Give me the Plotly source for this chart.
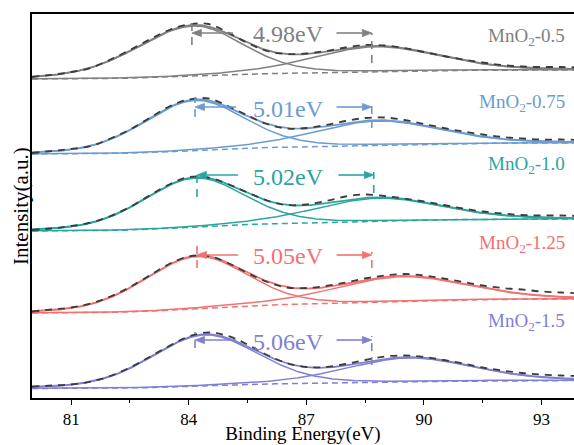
import numpy as np
import plotly.graph_objects as go

# ---------------- data ----------------
sample_names = ["MnO<sub>2</sub>-0.5", "MnO<sub>2</sub>-0.75", "MnO<sub>2</sub>-1.0",
                "MnO<sub>2</sub>-1.25", "MnO<sub>2</sub>-1.5"]
splitting_labels = ["4.98eV", "5.01eV", "5.02eV", "5.05eV", "5.06eV"]

# measured spectra (stacked, arbitrary units) at these binding energies
energies = [80.0, 80.5, 81.0, 81.5, 82.0, 82.5, 83.0, 83.5, 84.0, 84.5, 85.0, 85.5,
            86.0, 86.5, 87.0, 87.5, 88.0, 88.5, 89.0, 89.5, 90.0, 90.5, 91.0, 91.5,
            92.0, 92.5, 93.0, 93.5, 94.0]
meas_05 = [321.0, 323.2, 326.0, 330.0, 338.5, 348.0, 358.5, 368.0, 373.5, 374.0, 365.5,
           355.0, 347.0, 344.0, 344.5, 347.0, 350.5, 353.0, 352.5, 350.0, 346.0, 342.0,
           338.5, 335.5, 333.0, 331.5, 331.0, 331.0, 330.5]
meas_075 = [245.0, 247.0, 249.0, 252.0, 259.5, 268.5, 280.0, 291.5, 298.5, 299.5, 292.0,
            282.5, 274.0, 269.5, 270.0, 273.0, 277.0, 280.0, 280.5, 278.0, 274.0, 270.0,
            266.5, 263.5, 261.0, 259.5, 258.5, 258.5, 258.0]
meas_10 = [168.0, 169.5, 172.0, 175.5, 182.0, 191.0, 202.5, 213.5, 221.0, 220.5, 214.0,
           205.5, 197.5, 193.0, 193.5, 197.0, 201.5, 203.5, 202.0, 199.5, 196.5, 193.0,
           189.5, 186.5, 184.5, 183.0, 182.5, 182.5, 182.0]
meas_125 = [86.5, 88.5, 90.5, 94.5, 101.5, 111.0, 122.5, 134.0, 141.5, 142.0, 135.0, 125.0,
            116.0, 110.5, 110.0, 112.0, 115.5, 119.5, 122.5, 124.0, 122.5, 119.5, 116.0,
            112.5, 110.0, 108.5, 106.5, 105.5, 104.5]
meas_15 = [11.5, 12.5, 13.5, 16.5, 22.0, 30.5, 41.0, 52.0, 61.5, 65.5, 62.0, 53.5, 43.0,
           35.0, 31.0, 31.0, 34.0, 38.0, 41.5, 42.5, 41.0, 38.0, 34.5, 30.5, 27.5, 25.0,
           23.5, 22.5, 22.0]
measured = [meas_05, meas_075, meas_10, meas_125, meas_15]

# fitted components (pseudo-Voigt peaks on a Shirley background)
bg_left = [319, 244, 167, 85, 9.5]
bg_step = [9, 11, 12, 14, 8]
p1_center = [84.1, 84.15, 84.15, 84.2, 84.4]
p1_height = [50, 50, 49, 52, 51]
p1_fwhm_low = [3.4, 3.1, 3.1, 3.2, 3.2]
p1_fwhm_high = [3.0, 3.0, 3.0, 3.0, 3.2]
p2_center = [88.75, 88.8, 88.8, 89.4, 89.6]
p2_height = [25, 24, 23, 25, 24]
p2_fwhm = [3.8, 3.8, 3.8, 4.0, 3.8]

# peak-position markers (eV)
marker_left = [84.08, 84.16, 84.21, 84.21, 84.16]
marker_right = [88.67, 88.67, 88.72, 88.67, 88.67]

# ---------------- layout helpers (positions / styles) ----------------
colors = ["#808080", "#6b9bd2", "#2aa59f", "#f27171", "#7f7fd5"]
arrow_level = [365, 291, 223, 143, 58]
left_marker_span = [(353, 378), (281, 301), (201, 226), (130, 156), (50, 66)]
right_marker_span = [(335, 365), (270, 295), (205, 226), (130, 146), (33, 62)]
name_y = [361, 295, 233, 154, 76]
label_y = [364, 289, 221, 142, 56]
HEAD_LEN = 0.24   # eV (about 9 px)
HEAD_HALF = 3.6   # plot units (about 3.6 px)
FONT = "Liberation Serif"


def pvoigt(x, c, h, wl, wr, eta=0.2):
    w = np.where(x < c, wl, wr)
    d2 = 4.0 * (x - c) ** 2 / w ** 2
    return h * ((1 - eta) * np.exp(-np.log(2) * d2) + eta / (1 + d2))


def arrow(fig, x_tail, x_tip, y, col):
    d = 1 if x_tail > x_tip else -1
    base = x_tip + d * HEAD_LEN
    fig.add_trace(go.Scatter(x=[x_tail, base], y=[y, y], mode="lines",
                             line=dict(color=col, width=1.6)))
    fig.add_trace(go.Scatter(x=[x_tip, base, base, x_tip],
                             y=[y, y + HEAD_HALF, y - HEAD_HALF, y],
                             mode="lines", fill="toself", fillcolor=col,
                             line=dict(color=col, width=0.8)))


xg = np.linspace(80, 94, 561)
fig = go.Figure()
for i in range(5):
    col = colors[i]
    g1 = pvoigt(xg, p1_center[i], p1_height[i], p1_fwhm_low[i], p1_fwhm_high[i])
    g2 = pvoigt(xg, p2_center[i], p2_height[i], p2_fwhm[i], p2_fwhm[i])
    s = g1 + g2
    F = np.cumsum(s) / np.sum(s)
    bg = bg_left[i] + bg_step[i] * F
    env = bg + g1 + g2
    fig.add_trace(go.Scatter(x=xg, y=bg, mode="lines",
                             line=dict(color=col, width=1.5, dash="6px,4px")))
    fig.add_trace(go.Scatter(x=xg, y=bg + g2, mode="lines", line=dict(color=col, width=1.5)))
    fig.add_trace(go.Scatter(x=xg, y=bg + g1, mode="lines", line=dict(color=col, width=1.5)))
    fig.add_trace(go.Scatter(x=xg, y=env, mode="lines", line=dict(color=col, width=1.8)))
    fig.add_trace(go.Scatter(x=energies, y=measured[i], mode="lines", line_shape="spline",
                             line=dict(color="#3c3c3c", width=1.8, dash="7px,6px")))
    # peak markers
    fig.add_trace(go.Scatter(x=[marker_left[i]] * 2, y=list(left_marker_span[i]), mode="lines",
                             line=dict(color=col, width=1.6, dash="8px,6px")))
    fig.add_trace(go.Scatter(x=[marker_right[i]] * 2, y=list(right_marker_span[i]), mode="lines",
                             line=dict(color=col, width=1.6, dash="8px,6px")))
    arrow(fig, marker_left[i] + 1.05, marker_left[i], arrow_level[i], col)
    arrow(fig, marker_right[i] - 0.9, marker_right[i], arrow_level[i], col)
    fig.add_annotation(x=86.55, y=label_y[i], text=splitting_labels[i], showarrow=False,
                       font=dict(family=FONT, size=24, color=col), xanchor="center",
                       yanchor="middle")
    fig.add_annotation(x=93.65, y=name_y[i], text=sample_names[i], showarrow=False,
                       font=dict(family=FONT, size=19, color=col), xanchor="right",
                       yanchor="middle")

fig.add_annotation(xref="paper", yref="paper", x=0, y=0.5, xshift=-11,
                   text="Intensity(a.u.)", textangle=-90, showarrow=False,
                   xanchor="center", yanchor="middle",
                   font=dict(family=FONT, size=21, color="black"))

fig.update_layout(
    width=574, height=445,
    margin=dict(l=32, r=0, t=14, b=47),
    plot_bgcolor="white", paper_bgcolor="white",
    showlegend=False, hovermode=False,
    font=dict(family=FONT, color="black"),
)
fig.update_xaxes(
    range=[80, 93.83], tickvals=[81, 84, 87, 90, 93],
    ticks="outside", ticklen=5, tickwidth=1.3, tickcolor="black",
    minor=dict(tickvals=[82.5, 85.5, 88.5, 91.5], ticks="outside", ticklen=3,
               tickwidth=1.3, tickcolor="black"),
    showline=True, linecolor="black", linewidth=1.5, mirror=True,
    showgrid=False, zeroline=False, tickfont=dict(family=FONT, size=17, color="black"),
    title=dict(text="Binding Energy(eV)", font=dict(family=FONT, size=19, color="black"),
               standoff=5),
    automargin=False,
)
fig.update_yaxes(
    range=[0, 384], showticklabels=False, ticks="",
    showline=True, linecolor="black", linewidth=1.5, showgrid=False, zeroline=False,
    automargin=False,
)

fig.write_html("out.html", config={"displayModeBar": False},
               post_script="document.body.style.margin='0px';"
                           "document.body.style.overflow='hidden';")
